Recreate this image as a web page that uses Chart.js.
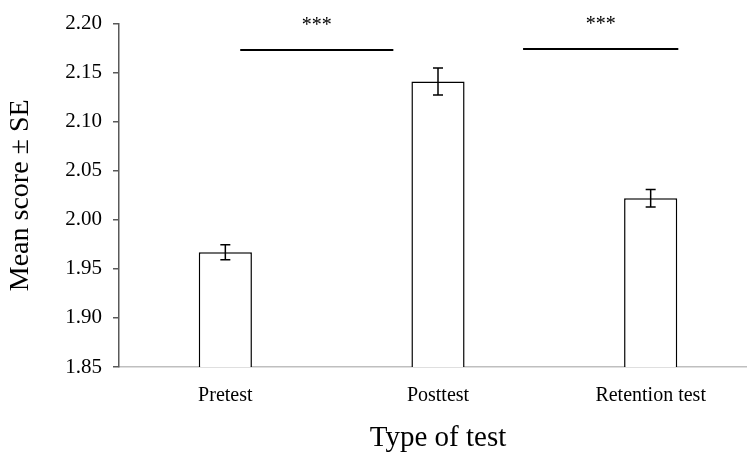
<!DOCTYPE html>
<html>
<head>
<meta charset="utf-8">
<script src="https://cdn.jsdelivr.net/npm/chart.js@4.4.1/dist/chart.umd.min.js"></script>
<style>
  html, body { margin: 0; padding: 0; background: #fff; overflow: hidden; }
  #wrap { width: 757px; height: 458px; }
</style>
</head>
<body>
<div id="wrap"><canvas id="scoreChart"></canvas></div>
<script>
// data
var categories = ['Pretest', 'Posttest', 'Retention test'];
var meanScores = [1.967, 2.141, 2.022];
var seValues = [0.0077, 0.0137, 0.009];
var yTicks = [1.85, 1.90, 1.95, 2.00, 2.05, 2.10, 2.15, 2.20];

// significance bars (category index units, y in score units)
var sigFrom = [0.07, 1.40];
var sigTo = [0.79, 2.13];
var sigLevel = [2.173, 2.174];
var sigLabel = ['***', '***'];

var serif = "'Liberation Serif', 'Times New Roman', serif";

// error bars + significance lines
var extrasPlugin = {
  id: 'extras',
  afterDatasetsDraw: function (chart) {
    var c = chart.ctx;
    var xs = chart.scales.x, ys = chart.scales.y;
    var meta = chart.getDatasetMeta(0);
    c.save();
    c.strokeStyle = '#000';
    c.lineWidth = 1.5;
    meta.data.forEach(function (bar, i) {
      var x = bar.x;
      var top = ys.getPixelForValue(meanScores[i] + seValues[i]);
      var bot = ys.getPixelForValue(meanScores[i] - seValues[i]);
      c.beginPath();
      c.moveTo(x, top); c.lineTo(x, bot);
      c.moveTo(x - 5, top); c.lineTo(x + 5, top);
      c.moveTo(x - 5, bot); c.lineTo(x + 5, bot);
      c.stroke();
    });
    c.lineWidth = 2;
    c.fillStyle = '#000';
    c.font = '20px ' + serif;
    c.textAlign = 'center';
    c.textBaseline = 'middle';
    for (var k = 0; k < sigFrom.length; k++) {
      var x1 = xs.getPixelForValue(sigFrom[k]);
      var x2 = xs.getPixelForValue(sigTo[k]);
      var y = ys.getPixelForValue(sigLevel[k]);
      c.beginPath();
      c.moveTo(x1, y); c.lineTo(x2, y);
      c.stroke();
      c.fillText(sigLabel[k], (x1 + x2) / 2, y - 24);
    }
    c.restore();
  }
};

var ctx = document.getElementById('scoreChart').getContext('2d');
var scoreChart = new Chart(ctx, {
  type: 'bar',
  data: {
    labels: categories,
    datasets: [{
      data: meanScores,
      backgroundColor: '#ffffff',
      borderColor: '#000000',
      borderWidth: 1.5,
      barPercentage: 0.25,
      categoryPercentage: 1
    }]
  },
  options: {
    responsive: true,
    maintainAspectRatio: false,
    animation: false,
    layout: {
      padding: { top: 21, right: 0, left: 0, bottom: 0 }
    },
    plugins: {
      legend: { display: false },
      tooltip: { enabled: false }
    },
    scales: {
      x: {
        grid: { display: false },
        border: { color: '#bfbfbf', width: 1.5 },
        ticks: {
          color: '#000',
          padding: 9,
          font: { family: serif, size: 20 }
        },
        title: {
          display: true,
          text: 'Type of test',
          color: '#000',
          padding: { top: 12, bottom: 2 },
          font: { family: serif, size: 29 }
        },
        afterFit: function (scale) { scale.height = 91; }
      },
      y: {
        min: 1.85,
        max: 2.20,
        afterBuildTicks: function (scale) {
          scale.ticks = yTicks.map(function (v) { return { value: v }; });
        },
        grid: {
          drawOnChartArea: false,
          drawTicks: true,
          tickLength: 6,
          color: '#595959',
          lineWidth: 1.5
        },
        border: { color: '#595959', width: 1.5 },
        ticks: {
          color: '#000',
          padding: 11,
          font: { family: serif, size: 21 },
          callback: function (v) { return Number(v).toFixed(2); }
        },
        title: {
          display: true,
          text: 'Mean score ± SE',
          color: '#000',
          padding: { top: 4, bottom: 4 },
          font: { family: serif, size: 28 }
        },
        afterFit: function (scale) { scale.width = 119; }
      }
    }
  },
  plugins: [extrasPlugin]
});
</script>
</body>
</html>
